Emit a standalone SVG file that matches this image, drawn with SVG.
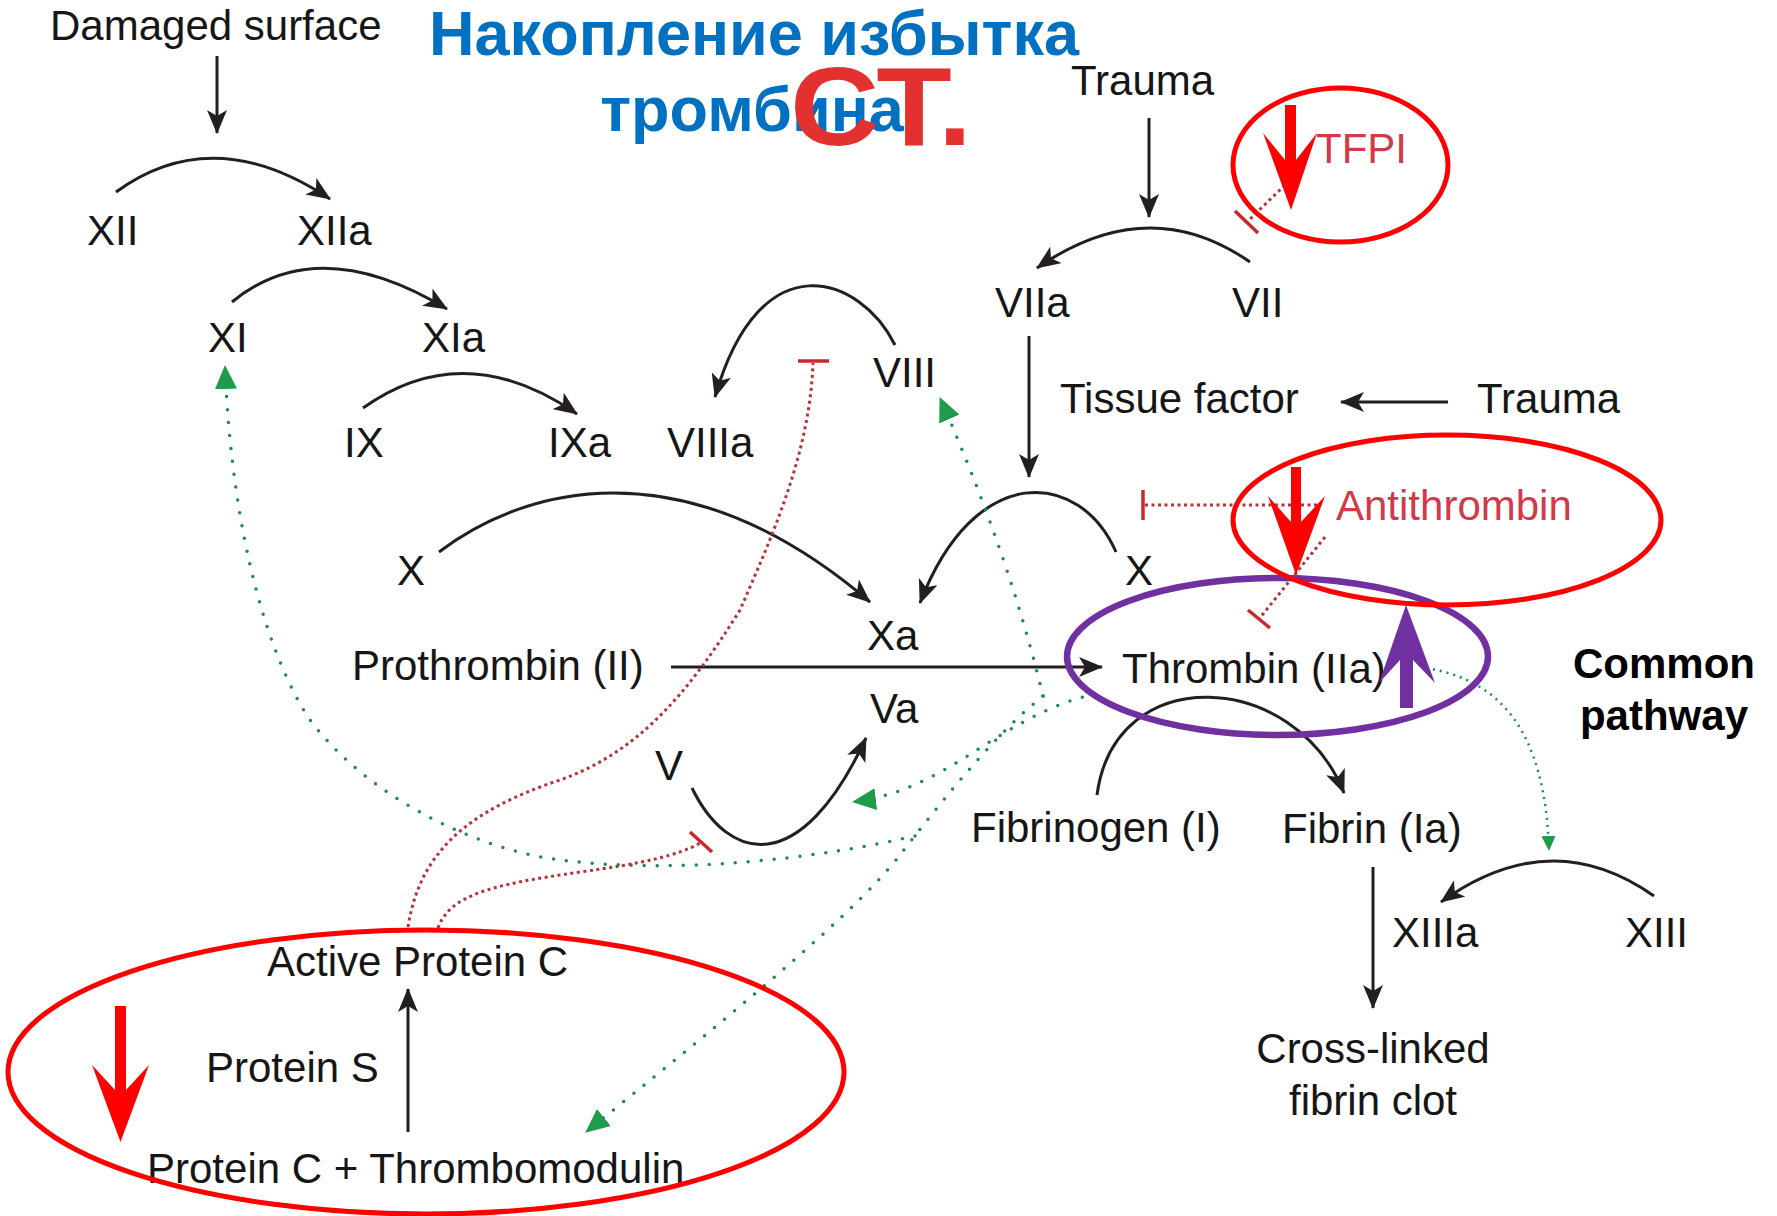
<svg xmlns="http://www.w3.org/2000/svg" width="1777" height="1216" viewBox="0 0 1777 1216">
<defs>
<style>
.lbl{font-family:"Liberation Sans",Arial,Helvetica,sans-serif;font-size:42px;fill:#161616}
.inh{fill:#D23A4A}
.bold{font-weight:bold;fill:#000}
.mid{text-anchor:middle}
.title{font-family:"Liberation Sans",Arial,sans-serif;font-weight:bold;font-size:63px;fill:#0070C0;text-anchor:middle}
.ct{font-family:"Liberation Sans",Arial,sans-serif;font-weight:bold;font-size:112px;fill:#E2312F}
.arr{fill:none;stroke:#231F20;stroke-width:3;marker-end:url(#ab)}
.gdot{fill:none;stroke:#1F8A50;stroke-width:3.5;stroke-linecap:round;stroke-dasharray:0 13;marker-end:url(#ag)}
.gsm{stroke-width:2.5;stroke-dasharray:2 5;stroke-linecap:butt;marker-end:url(#ags)}
.rdot{fill:none;stroke:#B8323A;stroke-width:3;stroke-dasharray:3 3.5}
.tbar{fill:none;stroke:#C8282E;stroke-width:3.5}
.ring{fill:none;stroke:#FF0000;stroke-width:5}
.big{fill:#FF0000}
</style>
<marker id="ab" viewBox="0 0 24 20" markerWidth="24" markerHeight="20" refX="23" refY="10" orient="auto" markerUnits="userSpaceOnUse"><path d="M0,0 L24,10 L0,20 L6,10 Z" fill="#231F20"/></marker>
<marker id="ag" viewBox="0 0 24 22" markerWidth="24" markerHeight="22" refX="23" refY="11" orient="auto" markerUnits="userSpaceOnUse"><path d="M0,0 L24,11 L0,22 Z" fill="#1E9B4B"/></marker>
<marker id="ags" viewBox="0 0 15 14" markerWidth="15" markerHeight="14" refX="14" refY="7" orient="auto" markerUnits="userSpaceOnUse"><path d="M0,0 L15,7 L0,14 Z" fill="#1E9B4B"/></marker>
</defs>
<rect width="1777" height="1216" fill="#fff"/>

<g id="connectors">
<path class="arr" d="M217,56 L217,133"/>
<path class="arr" d="M116,192 Q213,121 330,199"/>
<path class="arr" d="M232,302 Q318,231 447,309"/>
<path class="arr" d="M363,408 Q464,336 577,414"/>
<path class="arr" d="M439,552 C520,490 680,440 870,602"/>
<path class="arr" d="M1116,552 C1080,470 975,460 920,603"/>
<path class="arr" d="M895,345 C860,275 760,240 715,397"/>
<path class="arr" d="M1149,118 L1149,217"/>
<path class="arr" d="M1250,262 Q1148,191 1037,268"/>
<path class="arr" d="M1448,402 L1341,402"/>
<path class="arr" d="M1029,336 L1029,477"/>
<path class="arr" d="M671,667 L1102,667"/>
<path class="arr" d="M692,788 C728,862 800,880 866,738"/>
<path class="arr" d="M1097,795 C1115,660 1295,670 1344,793"/>
<path class="arr" d="M1373,867 L1373,1008"/>
<path class="arr" d="M1654,896 Q1551,823 1441,902"/>
<path class="arr" d="M408,1132 L408,989"/>

<path class="gdot" d="M1043,696 C1020,600 985,500 940,398"/>
<path class="gdot" d="M1043,696 C1000,730 950,790 900,855 S700,1040 586,1132"/>
<path class="gdot" d="M915,836 C820,858 680,875 560,860 C480,850 370,800 310,720 C270,660 232,540 225,366"/>
<path class="gdot" d="M1095,694 C1000,715 950,790 853,802"/>
<path class="gdot gsm" d="M1426,668 C1500,680 1545,730 1549,850"/>

<path class="rdot" d="M408,927 C420,850 470,810 560,780 C640,752 690,690 740,610 C775,530 810,450 813,363"/>
<path class="rdot" d="M438,928 C450,895 490,885 580,872 C640,864 680,855 700,843"/>
<path class="rdot" d="M1285,185 L1247,222"/>
<path class="rdot" d="M1317,505 L1143,505"/>
<path class="rdot" d="M1325,537 L1259,619"/>
<path class="tbar" d="M798,361 L829,361"/>
<path class="tbar" d="M690,832 L712,852"/>
<path class="tbar" d="M1235,211 L1258,233"/>
<path class="tbar" d="M1143,490 L1143,520"/>
<path class="tbar" d="M1248,610 L1270,628"/>
</g>

<g id="n-damaged"><text class="lbl" x="50" y="40" font-size="43">Damaged surface</text></g>
<g id="n-xii"><text class="lbl" x="87" y="245">XII</text></g>
<g id="n-xiia"><text class="lbl" x="297" y="245">XIIa</text></g>
<g id="n-xi"><text class="lbl" x="208" y="352">XI</text></g>
<g id="n-xia"><text class="lbl" x="422" y="352">XIa</text></g>
<g id="n-ix"><text class="lbl" x="344" y="457">IX</text></g>
<g id="n-ixa"><text class="lbl" x="548" y="457">IXa</text></g>
<g id="n-viiia"><text class="lbl" x="667" y="457">VIIIa</text></g>
<g id="n-viii"><text class="lbl" x="873" y="387">VIII</text></g>
<g id="n-x1"><text class="lbl" x="397" y="585">X</text></g>
<g id="n-xa"><text class="lbl" x="867" y="650">Xa</text></g>
<g id="n-prothrombin"><text class="lbl" x="352" y="680">Prothrombin (II)</text></g>
<g id="n-va"><text class="lbl" x="870" y="723">Va</text></g>
<g id="n-v"><text class="lbl" x="655" y="780">V</text></g>
<g id="n-trauma1"><text class="lbl" x="1071" y="95">Trauma</text></g>
<g id="n-viia"><text class="lbl" x="995" y="317">VIIa</text></g>
<g id="n-vii"><text class="lbl" x="1232" y="317">VII</text></g>
<g id="n-tfpi"><text class="lbl inh" x="1316" y="163">TFPI</text></g>
<g id="n-tissue"><text class="lbl" x="1060" y="413">Tissue factor</text></g>
<g id="n-trauma2"><text class="lbl" x="1477" y="413">Trauma</text></g>
<g id="n-antithrombin"><text class="lbl inh" x="1336" y="520">Antithrombin</text></g>
<g id="n-x2"><text class="lbl" x="1125" y="585">X</text></g>
<g id="n-thrombin"><text class="lbl" x="1122" y="683">Thrombin (IIa)</text></g>
<g id="n-common"><text class="lbl bold mid" x="1664" y="678">Common</text><text class="lbl bold mid" x="1664" y="730">pathway</text></g>
<g id="n-fibrinogen"><text class="lbl" x="971" y="842">Fibrinogen (I)</text></g>
<g id="n-fibrin"><text class="lbl" x="1282" y="843">Fibrin (Ia)</text></g>
<g id="n-xiiia"><text class="lbl" x="1392" y="947">XIIIa</text></g>
<g id="n-xiii"><text class="lbl" x="1625" y="947">XIII</text></g>
<g id="n-clot"><text class="lbl mid" x="1373" y="1063">Cross-linked</text><text class="lbl mid" x="1373" y="1115">fibrin clot</text></g>
<g id="n-apc"><text class="lbl" x="267" y="976">Active Protein C</text></g>
<g id="n-ps"><text class="lbl" x="206" y="1082">Protein S</text></g>
<g id="n-pctm"><text class="lbl" x="147" y="1183">Protein C + Thrombomodulin</text></g>

<g id="title">
<text class="title" x="754" y="55">Накопление избытка</text>
<text class="title" x="752" y="131">тромбина</text>
<text class="ct" x="790" y="145" textLength="182" lengthAdjust="spacingAndGlyphs">СТ.</text>
</g>

<g id="highlights">
<ellipse cx="1277.5" cy="656.5" rx="210.5" ry="78.5" fill="none" stroke="#7030A0" stroke-width="6.5"/>
<ellipse class="ring" cx="1340.5" cy="165" rx="107.5" ry="77"/>
<ellipse class="ring" cx="1447" cy="520" rx="214" ry="85"/>
<ellipse class="ring" cx="426" cy="1072" rx="418" ry="142"/>
<polygon class="big" points="1285,105 1296,105 1296,160 1317,133 1291,210 1263,133 1285,160"/>
<polygon class="big" points="1291,467 1301,467 1301,522 1325,496 1296,575 1268,496 1291,522"/>
<polygon class="big" points="115,1006 126,1006 126,1090 149,1065 120.5,1142 92,1065 115,1090"/>
<polygon fill="#7030A0" points="1400,708 1413,708 1413,660 1435,683 1406,605 1379,683 1400,660"/>
</g>
</svg>
